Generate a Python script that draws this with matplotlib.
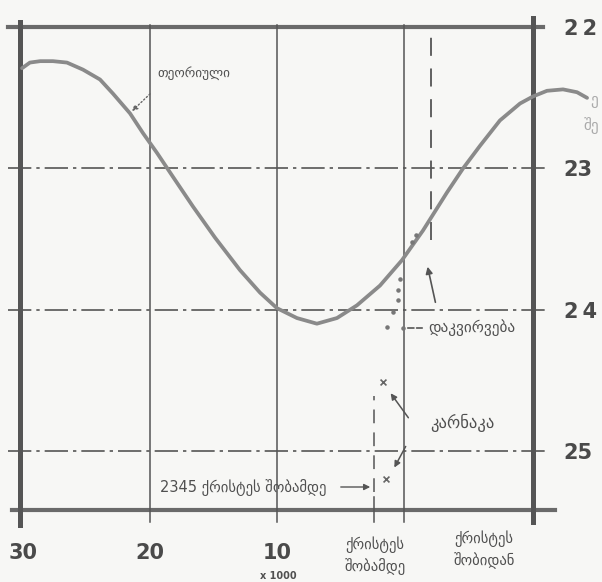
import matplotlib
matplotlib.use("Agg")
import matplotlib.pyplot as plt
from matplotlib.transforms import Affine2D

W, H = 602, 582

# time in thousands of years before year 0 (negative = after), obliquity in degrees
curve_t = [30.05, 29.43, 28.62, 27.62, 26.52, 25.26, 23.92, 22.90, 21.56, 20.54,
           19.44, 18.18, 16.61, 14.88, 12.92, 11.34, 10.01, 8.44, 6.87, 5.29,
           3.72, 1.91, 0.18, -1.47, -3.36, -4.62, -5.95, -7.52, -9.10, -10.12,
           -11.22, -12.48, -13.58, -14.37]
curve_eps = [22.29, 22.25, 22.24, 22.24, 22.25, 22.30, 22.37, 22.47, 22.61, 22.75,
             22.89, 23.06, 23.27, 23.49, 23.72, 23.88, 23.99, 24.06, 24.10, 24.06,
             23.97, 23.83, 23.65, 23.44, 23.17, 23.00, 22.84, 22.66, 22.54, 22.49,
             22.45, 22.44, 22.46, 22.50]

obs_t = [0.34, 0.50, 0.50, 0.89, 1.36, 0.10, -0.61, -0.90]
obs_eps = [23.78, 23.86, 23.93, 24.02, 24.12, 24.13, 23.52, 23.47]

karnak_t = [1.67, 1.44]
karnak_eps = [24.51, 25.20]

x_ticks = [30, 20, 10]
x_grid = [20, 10, 0]
y_ticks = [22, 23, 24, 25]
y_tick_labels = ["2\u20092", "23", "2\u20094", "25"]
y_grid = [23, 24, 25]
bc_2345 = 2.345
present = -2.1

lbl_theory = "თეორიული"
lbl_obs = "დაკვირვება"
lbl_karnak = "კარნაკა"
lbl_2345 = "2345 ქრისტეს შობამდე"
lbl_bc = "ქრისტეს\nშობამდე"
lbl_ad = "ქრისტეს\nშობიდან"

INK = "#555555"
CURVE = "#8a8a8a"
BG = "#f7f7f5"

fig = plt.figure(figsize=(W / 100, H / 100), dpi=100, facecolor=BG)
L, R, T, B = 20, 533, 27, 510
ax = fig.add_axes([L / W, 1 - B / H, (R - L) / W, (B - T) / H])
ax.set_facecolor("none")
ax.set_xlim(30.21, -10.12)
ax.set_ylim(25.42, 21.998)
for s in ax.spines.values():
    s.set_visible(False)

pix = Affine2D().scale(1 / W, -1 / H).translate(0, 1) + fig.transFigure


def fx(p):
    return (p - L) / (R - L)


def fy(p):
    return (B - p) / (B - T)


# frame
ax.axhline(22, fx(8), fx(543), color="#6a6a6a", lw=3.0, clip_on=False)
ax.axhline(25.42, fx(12), fx(555), color="#6a6a6a", lw=3.0, clip_on=False)
ax.axvline(30.21, fy(525), fy(22), color=INK, lw=3.6, clip_on=False)
ax.axvline(-10.12, fy(522), fy(18), color=INK, lw=3.6, clip_on=False)

# grid
for t in x_grid:
    ax.axvline(t, fy(522), fy(25), color=INK, lw=1.1, clip_on=False)
for e in y_grid:
    ax.axhline(e, fx(8), fx(546), color=INK, lw=1.2,
               linestyle=(0, (14, 3, 2, 3)), clip_on=False)
ax.axvline(bc_2345, fy(522), fy(497), color=INK, lw=1.1, clip_on=False)
ax.axvline(bc_2345, fy(492), fy(396), color=INK, lw=1.1,
           linestyle=(0, (9, 6)), clip_on=False)
ax.axvline(present, fy(240), fy(27), color=INK, lw=1.3,
           linestyle=(0, (10, 7)), clip_on=False)

# theoretical curve
ax.plot(curve_t, curve_eps, color=CURVE, lw=2.7, solid_capstyle="round",
        solid_joinstyle="round", clip_on=False)
ax.scatter(obs_t, obs_eps, s=5, color="#777777", zorder=4)
ax.scatter(karnak_t, karnak_eps, marker="x", s=18, color="#666666", lw=1.2, zorder=4)

# tick labels
ax.set_xticks(x_ticks)
ax.set_xticklabels([str(v) for v in x_ticks])
ax.tick_params(axis="x", length=0, pad=24, labelsize=15, labelcolor="#4a4a4a")
for lab in ax.get_xticklabels():
    lab.set_fontweight("bold")
ax.yaxis.tick_right()
ax.set_yticks(y_ticks)
ax.set_yticklabels(y_tick_labels)
ax.tick_params(axis="y", length=0, pad=22, labelsize=15, labelcolor="#4a4a4a")
for lab in ax.get_yticklabels():
    lab.set_fontweight("bold")

tk = dict(transform=pix, color="#505050", family="DejaVu Sans")
fig.text(278, 576, "x 1000", fontsize=7, fontweight="bold", ha="center", va="center", **tk)
fig.text(375, 556, lbl_bc, fontsize=10.5, ha="center", va="center", linespacing=1.4, **tk)
fig.text(484, 550, lbl_ad, fontsize=10.5, ha="center", va="center", linespacing=1.4, **tk)

# annotations
fig.text(157, 73, lbl_theory, fontsize=9.5, ha="left", va="center", **tk)
ax.annotate("", xy=(130, 113), xycoords=pix, xytext=(152, 92), textcoords=pix,
            arrowprops=dict(arrowstyle="-|>", color="#666666", lw=1.0,
                            linestyle=":", mutation_scale=8))

fig.text(428, 328, lbl_obs, fontsize=11, ha="left", va="center", **tk)
ax.annotate("", xy=(425, 328), xycoords=pix, xytext=(405, 328), textcoords=pix,
            arrowprops=dict(arrowstyle="-", color="#555555", lw=1.2, linestyle="--"))
ax.annotate("", xy=(427, 264), xycoords=pix, xytext=(436, 305), textcoords=pix,
            arrowprops=dict(arrowstyle="-|>", color="#555555", lw=1.2, mutation_scale=10))

fig.text(430, 423, lbl_karnak, fontsize=12, ha="left", va="center", **tk)
ax.annotate("", xy=(389, 391), xycoords=pix, xytext=(410, 420), textcoords=pix,
            arrowprops=dict(arrowstyle="-|>", color="#555555", lw=1.1, mutation_scale=9))
ax.annotate("", xy=(393, 470), xycoords=pix, xytext=(407, 444), textcoords=pix,
            arrowprops=dict(arrowstyle="-|>", color="#555555", lw=1.1, mutation_scale=9))

fig.text(160, 487, lbl_2345, fontsize=10.5, ha="left", va="center", **tk)
ax.annotate("", xy=(373, 487), xycoords=pix, xytext=(338, 487), textcoords=pix,
            arrowprops=dict(arrowstyle="-|>", color="#555555", lw=1.0, mutation_scale=9))

# clipped text at the right edge of the scan
fig.text(590, 100, "ე", fontsize=11, ha="left", va="center", transform=pix, color="#aaaaaa")
fig.text(584, 126, "შე", fontsize=11, ha="left", va="center", transform=pix, color="#aaaaaa")

fig.savefig("out.png", dpi=100, facecolor=BG)
